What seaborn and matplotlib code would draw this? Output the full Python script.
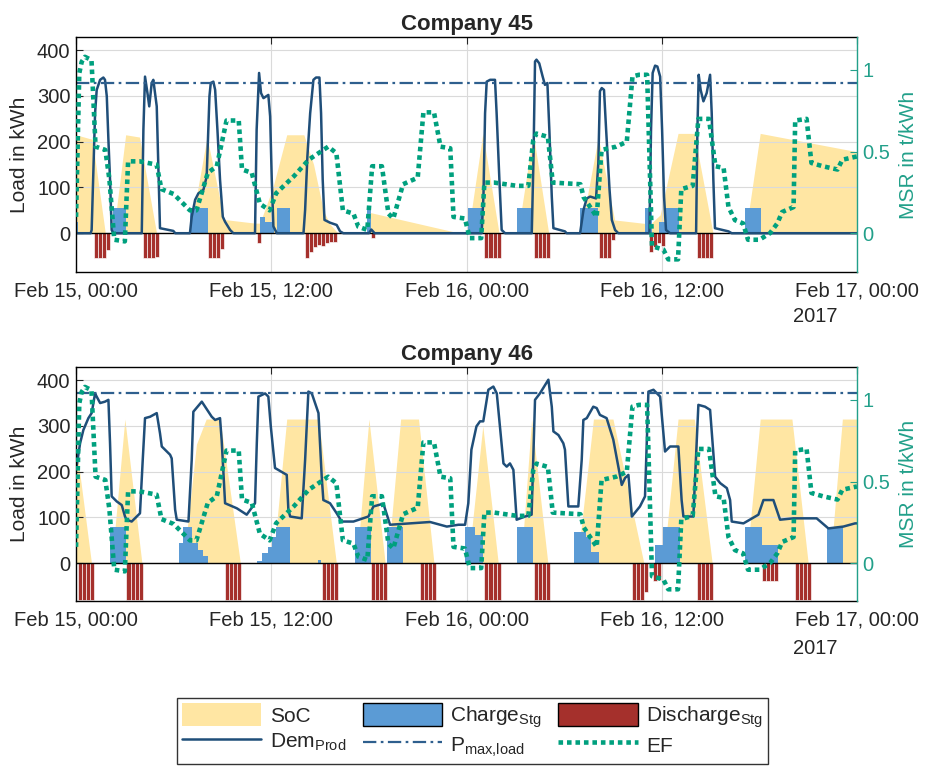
import numpy as np
import pandas as pd
import matplotlib
matplotlib.use("Agg")
import matplotlib.pyplot as plt
import matplotlib.dates as mdates
from matplotlib.patches import Patch
from matplotlib.lines import Line2D
from matplotlib.ticker import FuncFormatter
import seaborn as sns

START = pd.Timestamp("2017-02-15 00:00")
SLOT_H = 0.25  # quarter-hour resolution of the storage schedule

# Emission factor (MSR, t/kWh), hours since start -> value
ef = [(0.0, 0.10), (0.2, 0.98), (0.35, 1.05), (0.55, 1.08), (0.95, 1.06), (1.05, 0.85),
      (1.2, 0.53), (1.8, 0.51), (2.05, 0.33), (2.35, -0.04), (3.0, -0.05), (3.1, 0.2),
      (3.2, 0.44), (3.9, 0.44), (4.95, 0.42), (5.25, 0.27), (6.0, 0.24), (7.0, 0.14),
      (7.4, 0.14), (8.1, 0.37), (8.65, 0.41), (9.25, 0.69), (10.0, 0.69), (10.2, 0.39),
      (10.8, 0.37), (11.3, 0.18), (11.9, 0.14), (12.3, 0.245), (13.4, 0.35), (14.3, 0.45),
      (15.5, 0.53), (16.0, 0.49), (16.4, 0.14), (17.05, 0.12), (17.35, 0.04), (17.9, 0.02),
      (18.2, 0.41), (18.8, 0.41), (19.2, 0.12), (19.5, 0.09), (20.1, 0.30), (21.0, 0.34),
      (21.35, 0.74), (22.0, 0.74), (22.4, 0.53), (23.0, 0.52), (23.2, 0.10), (23.9, 0.09),
      (24.2, -0.03), (24.9, -0.03), (25.1, 0.31), (25.7, 0.31), (27.1, 0.29), (27.8, 0.29),
      (28.1, 0.57), (28.3, 0.61), (29.0, 0.59), (29.3, 0.31), (31.0, 0.30), (31.2, 0.22),
      (32.0, 0.10), (32.3, 0.51), (33.2, 0.53), (33.85, 0.56), (34.2, 0.96), (34.6, 0.97),
      (35.1, 0.97), (35.4, -0.08), (36.1, -0.10), (36.4, -0.16), (37.0, -0.16), (37.2, 0.27),
      (37.9, 0.29), (38.25, 0.70), (38.9, 0.70), (39.3, 0.41), (39.8, 0.40), (40.1, 0.16),
      (40.5, 0.08), (41.0, 0.06), (41.3, -0.04), (42.0, -0.04), (42.65, 0.0), (43.1, 0.06),
      (43.4, 0.13), (44.1, 0.16), (44.2, 0.69), (44.9, 0.70), (45.2, 0.43), (45.9, 0.41),
      (46.8, 0.39), (47.1, 0.45), (48.0, 0.47)]

# ---- Company 45 ----
dem45 = [(0, 0), (0.9, 0), (0.96, 7), (1.07, 138), (1.17, 262), (1.27, 313), (1.48, 335),
         (1.68, 340), (1.78, 335), (1.89, 299), (1.99, 204), (2.09, 117), (2.19, 7), (2.3, 0),
         (4.04, 0), (4.14, 226), (4.24, 342), (4.39, 306), (4.5, 277), (4.65, 328), (4.75, 335),
         (4.96, 277), (5.08, 117), (5.16, 11), (5.98, 5), (6.1, 0),
         (7.0, 0), (7.11, 36), (7.32, 73), (7.52, 87), (7.83, 95), (8.03, 124), (8.2, 299),
         (8.28, 328), (8.44, 331), (8.55, 313), (8.69, 226), (8.85, 117), (9.02, 36),
         (9.16, 25), (9.47, 7), (9.67, 0),
         (11.0, 0), (11.1, 226), (11.25, 350), (11.37, 306), (11.52, 295), (11.82, 302),
         (11.93, 255), (12.03, 117), (12.13, 15), (12.34, 0),
         (13.98, 0), (14.08, 51), (14.22, 168), (14.39, 262), (14.59, 335), (14.75, 340),
         (14.96, 340), (15.06, 262), (15.16, 117), (15.27, 29), (15.61, 23), (16.02, 18),
         (16.23, 4), (16.43, 0),
         (18.0, 0), (18.15, 8), (18.35, 0),
         (24.93, 0), (25.04, 80), (25.14, 262), (25.24, 331), (25.45, 335), (25.75, 335),
         (25.85, 262), (26.02, 117), (26.16, 7), (26.37, 0),
         (28.01, 0), (28.11, 153), (28.21, 375), (28.3, 379), (28.47, 371), (28.68, 342),
         (28.82, 324), (28.97, 328), (29.09, 226), (29.24, 80), (29.34, 11), (30.05, 4),
         (30.15, 0),
         (30.98, 0), (31.19, 51), (31.39, 76), (31.6, 80), (31.96, 76), (32.1, 153),
         (32.2, 310), (32.31, 317), (32.45, 313), (32.58, 226), (32.79, 95), (32.93, 29),
         (33.13, 7), (33.33, 0),
         (35.24, 0), (35.34, 226), (35.44, 350), (35.59, 366), (35.73, 364), (35.9, 342),
         (36.02, 226), (36.14, 80), (36.26, 7), (36.51, 0),
         (38.11, 0), (38.19, 226), (38.27, 346), (38.39, 313), (38.56, 288), (38.76, 306),
         (38.97, 346), (39.07, 262), (39.17, 117), (39.27, 11), (40.1, 4), (40.3, 0),
         (48.0, 0)]
soc45 = [(0, 215), (1.0, 205), (1.8, 0), (2.3, 0), (3.05, 215), (3.9, 210), (4.95, 0),
         (7.0, 0), (8.05, 210), (9.1, 30), (11.0, 22), (11.3, 22), (12.1, 100), (12.95, 215),
         (14.0, 215), (14.6, 150), (15.2, 50), (15.6, 20), (16.1, 0), (17.9, 0), (18.1, 45),
         (23.6, 0), (24.1, 0), (25.0, 218), (26.0, 0), (27.15, 0), (28.1, 218), (29.05, 0),
         (31.0, 0), (32.1, 210), (33.1, 29), (35.3, 20), (35.9, 40), (37.0, 218), (38.0, 218),
         (39.15, 0), (41.15, 0), (42.05, 218), (48.0, 178)]
# charging blocks: (start hour, duration h, kW)
chg45 = [(0.0, 0.15, 25), (2.3, 0.8, 55), (7.0, 1.1, 55), (11.3, 0.3, 36), (11.6, 0.55, 25),
         (12.33, 0.82, 55), (17.9, 0.2, 50), (24.1, 0.9, 55), (27.1, 1.0, 55), (31.0, 1.1, 55),
         (35.0, 0.4, 55), (35.85, 0.35, 25), (36.2, 0.85, 55), (41.1, 1.0, 55)]
# discharging quarter-hours: (start hour, kW)
dis45 = [(1.1, -55), (1.35, -55), (1.6, -55), (1.85, -36),
         (4.1, -55), (4.35, -55), (4.6, -55), (4.85, -52),
         (8.1, -55), (8.35, -55), (8.6, -55), (8.85, -35),
         (11.1, -22),
         (14.07, -55), (14.32, -42), (14.57, -30), (14.82, -25), (15.07, -28), (15.32, -22),
         (15.57, -20), (15.82, -20),
         (18.15, -10),
         (25.1, -55), (25.35, -55), (25.6, -55), (25.85, -55),
         (28.15, -55), (28.4, -55), (28.65, -55), (28.9, -55),
         (32.15, -55), (32.4, -55), (32.65, -55), (32.9, -15),
         (35.2, -40), (35.45, -30), (35.7, -22), (35.95, -28),
         (38.15, -55), (38.4, -55), (38.65, -55), (38.9, -55)]
pmax45 = 328

# ---- Company 46 ----
dem46 = [(0, 204), (0.25, 262), (0.45, 291), (0.76, 317), (0.96, 328), (1.07, 350), (1.17, 371),
         (1.27, 364), (1.48, 350), (1.78, 353), (1.99, 357), (2.09, 262), (2.19, 146),
         (2.5, 135), (2.81, 127), (3.01, 102), (3.11, 95), (3.42, 91), (3.73, 102), (3.93, 109),
         (4.1, 226), (4.24, 317), (4.55, 320), (4.75, 324), (4.96, 328), (5.16, 284),
         (5.27, 255), (5.47, 248), (5.78, 237), (5.88, 229), (6.09, 117), (6.19, 95),
         (6.91, 91), (7.11, 226), (7.21, 331), (7.73, 353), (8.34, 320), (8.55, 313),
         (8.85, 317), (8.95, 269), (9.16, 131), (9.88, 120), (10.49, 106), (11.0, 131),
         (11.11, 262), (11.21, 364), (11.62, 371), (11.82, 364), (11.97, 299), (12.23, 208),
         (12.95, 193), (13.05, 117), (13.16, 102), (13.87, 98), (14.08, 226), (14.28, 375),
         (14.49, 371), (14.69, 350), (14.9, 328), (15.1, 189), (15.2, 138), (15.61, 131),
         (16.02, 109), (16.33, 91), (17.05, 91), (17.97, 102), (18.28, 124), (18.89, 130),
         (19.2, 95), (19.3, 84), (20.53, 87), (21.76, 90), (22.79, 80), (23.5, 84),
         (23.91, 84), (24.11, 131), (24.3, 248), (24.61, 299), (24.83, 310), (25.03, 310),
         (25.34, 379), (25.65, 386), (25.86, 371), (26.05, 299), (26.27, 218), (26.47, 211),
         (26.67, 218), (26.88, 204), (27.08, 95), (27.6, 102), (28.0, 106), (28.21, 357),
         (28.51, 371), (29.03, 401), (29.24, 342), (29.34, 288), (29.65, 280), (29.95, 262),
         (30.05, 248), (30.26, 124), (30.87, 124), (31.08, 226), (31.18, 313), (31.39, 317),
         (31.79, 342), (32.0, 339), (32.2, 324), (32.61, 317), (33.02, 270), (33.54, 171),
         (33.74, 186), (33.95, 193), (34.16, 102), (34.66, 124), (34.97, 146), (35.18, 375),
         (35.49, 379), (35.9, 364), (36.2, 244), (36.51, 255), (37.02, 255), (37.22, 138),
         (37.33, 102), (37.94, 102), (38.25, 346), (38.66, 342), (38.97, 335), (39.28, 189),
         (39.59, 175), (40.0, 164), (40.2, 138), (40.3, 91), (41.02, 87), (41.94, 106),
         (42.25, 138), (42.86, 138), (43.27, 95), (44.09, 98), (45.52, 98), (46.24, 76),
         (47.16, 80), (47.88, 87), (48.0, 87)]
soc46 = [(0, 260), (0.95, 0), (2.2, 0), (3.0, 315), (4.05, 0), (6.6, 0), (7.4, 260), (8.0, 315),
         (8.85, 315), (10.1, 0), (12.1, 0), (12.95, 315), (14.9, 315), (16.0, 0), (17.25, 0),
         (18.0, 315), (19.0, 0), (19.15, 0), (19.95, 315), (21.05, 315), (22.0, 0), (24.1, 0),
         (25.0, 300), (25.95, 0), (27.35, 0), (28.0, 315), (29.0, 0), (30.8, 0), (31.8, 315),
         (33.0, 315), (34.9, 0), (36.1, 0), (37.0, 315), (38.0, 315), (39.1, 0), (41.2, 0),
         (42.05, 315), (44.0, 315), (45.0, 0), (46.35, 0), (47.1, 315), (48.0, 315)]
chg46 = [(2.1, 1.0, 80), (6.3, 0.3, 44), (6.6, 0.5, 80), (7.1, 0.42, 44), (7.52, 0.31, 29),
         (7.83, 0.3, 15), (11.1, 0.3, 5), (11.4, 0.4, 22), (11.8, 0.25, 36), (12.05, 0.25, 58),
         (12.3, 0.85, 80), (14.9, 0.15, 7), (17.15, 0.95, 80), (19.1, 1.0, 80), (23.9, 0.65, 80),
         (24.55, 0.45, 62), (27.1, 1.0, 80), (30.6, 0.72, 69), (31.32, 0.3, 58),
         (31.62, 0.5, 25), (35.6, 0.5, 40), (36.1, 1.0, 80), (41.12, 1.02, 80),
         (42.14, 1.03, 40), (46.14, 1.02, 80)]
dis46 = [(0.1, -80), (0.35, -80), (0.6, -80), (0.85, -80),
         (3.1, -80), (3.35, -80), (3.6, -80), (3.85, -80),
         (9.15, -80), (9.4, -80), (9.65, -80), (9.9, -80),
         (15.1, -80), (15.35, -80), (15.6, -80), (15.85, -80),
         (18.1, -80), (18.35, -80), (18.6, -80), (18.85, -80),
         (21.15, -80), (21.4, -80), (21.65, -80), (21.9, -80),
         (25.1, -80), (25.35, -80), (25.6, -80), (25.85, -80),
         (28.15, -80), (28.4, -80), (28.65, -80), (28.9, -80),
         (34.15, -80), (34.4, -80), (34.65, -80), (34.9, -62),
         (35.45, -40), (35.7, -36),
         (38.15, -80), (38.4, -80), (38.65, -80), (38.9, -80),
         (42.15, -40), (42.4, -40), (42.65, -40), (42.9, -40),
         (44.2, -80), (44.45, -80), (44.7, -80), (44.95, -80)]
pmax46 = 371

# ---- style ----
C_SOC = "#FFE6A3"
C_CHG = "#5B9BD5"
C_DIS = "#A5302C"
C_DEM = "#1F4E79"
C_PMAX = "#2E5F8E"
C_EF = "#00A07E"
C_MSR = "#22A08A"

sns.set_style("white")
plt.rcParams["font.family"] = ["Liberation Sans", "DejaVu Sans"]
plt.rcParams["mathtext.fontset"] = "custom"
plt.rcParams["mathtext.rm"] = "Liberation Sans"
plt.rcParams["mathtext.it"] = "Liberation Sans:italic"
plt.rcParams["mathtext.bf"] = "Liberation Sans:bold"


def to_time(hours):
    return START + pd.to_timedelta(np.atleast_1d(np.asarray(hours, dtype=float)), unit="h")


def frame(pairs, cols):
    return pd.DataFrame(pairs, columns=cols)


def draw_panel(ax, title, dem, soc, chg, dis, pmax, ylim, ylim2):
    d_dem = frame(dem, ["h", "v"]); d_dem["t"] = to_time(d_dem["h"])
    d_soc = frame(soc, ["h", "v"]); d_soc["t"] = to_time(d_soc["h"])
    d_chg = frame(chg, ["h", "dur", "v"]); d_chg["t"] = to_time(d_chg["h"])
    d_dis = frame(dis, ["h", "v"]); d_dis["t"] = to_time(d_dis["h"])
    d_ef = frame(ef, ["h", "v"]); d_ef["t"] = to_time(d_ef["h"])
    d_pm = pd.DataFrame({"t": to_time([0, 48]), "v": [pmax, pmax]})

    ax.set_axisbelow(True)
    ax.grid(True, color="#DADADA", linewidth=0.8)
    ax.fill_between(d_soc["t"], 0, d_soc["v"], color=C_SOC, linewidth=0, zorder=0.3)
    ax.bar(d_chg["t"], d_chg["v"], width=d_chg["dur"].to_numpy() / 24, align="edge",
           color=C_CHG, linewidth=0, zorder=1.0)
    ax.bar(d_dis["t"], d_dis["v"], width=SLOT_H / 24, align="edge",
           color=C_DIS, edgecolor="white", linewidth=0.45, zorder=1.0)
    ax.axhline(0, color="black", linewidth=1.0, zorder=1.5)
    sns.lineplot(data=d_dem, x="t", y="v", ax=ax, color=C_DEM, linewidth=1.8,
                 estimator=None, sort=False, zorder=2)
    sns.lineplot(data=d_pm, x="t", y="v", ax=ax, color=C_PMAX, linewidth=1.6,
                 estimator=None, zorder=2)
    ax.lines[-1].set_dashes((6, 2, 1.2, 2))

    t_lo, t_hi = to_time([0, 48])
    ax.set_xlim(t_lo, t_hi)
    ax.set_ylim(*ylim)
    ax.set_yticks([0, 100, 200, 300, 400])
    ax.xaxis.set_major_locator(mdates.HourLocator(byhour=[0, 12]))
    ax.xaxis.set_major_formatter(mdates.DateFormatter("%b %d, %H:%M"))
    ax.set_xlabel("")
    ax.set_ylabel("Load in kWh", fontsize=15, labelpad=6)
    ax.set_title(title, fontsize=16, fontweight="bold", pad=5)
    ax.tick_params(axis="both", direction="in", length=5, width=0.8, labelsize=14.5,
                   top=True, right=False, pad=7)
    ax.tick_params(axis="y", pad=4)
    for s in ["left", "top", "bottom"]:
        ax.spines[s].set_color("black")
        ax.spines[s].set_linewidth(1.0)
    ax.spines["right"].set_visible(False)

    ax2 = ax.twinx()
    sns.lineplot(data=d_ef, x="t", y="v", ax=ax2, color=C_EF, linewidth=3.3,
                 estimator=None, sort=False)
    ax2.lines[-1].set_linestyle((0, (1, 0.85)))
    ax2.lines[-1].set_dash_capstyle("butt")
    ax2.set_ylim(*ylim2)
    ax2.set_yticks([0, 0.5, 1])
    ax2.yaxis.set_major_formatter(FuncFormatter(lambda v, p: f"{v:g}"))
    ax2.set_ylabel("MSR in t/kWh", fontsize=15, color=C_MSR, labelpad=6)
    ax2.set_xlabel("")
    ax2.tick_params(axis="y", direction="in", length=5, width=0.8, labelsize=14.5,
                    colors=C_MSR, pad=4)
    for s in ["left", "top", "bottom"]:
        ax2.spines[s].set_visible(False)
    ax2.spines["right"].set_color(C_MSR)
    ax2.spines["right"].set_linewidth(1.0)
    ax2.set_xlim(t_lo, t_hi)
    return ax2


fig = plt.figure(figsize=(9.25, 7.74), dpi=100)
ax_top = fig.add_axes([0.0822, 0.649, 0.8443, 0.3029])
ax_bot = fig.add_axes([0.0822, 0.2239, 0.8443, 0.3015])
t2 = draw_panel(ax_top, "Company 45", dem45, soc45, chg45, dis45, pmax45,
                (-84, 428), (-0.2355, 1.2))
b2 = draw_panel(ax_bot, "Company 46", dem46, soc46, chg46, dis46, pmax46,
                (-82, 428), (-0.2299, 1.2))
t2.set_position(ax_top.get_position())
b2.set_position(ax_bot.get_position())

# year annotation under the last date tick
fig.text(793 / 925, 1 - 317 / 774, "2017", fontsize=14.5, ha="left", va="center")
fig.text(793 / 925, 1 - 648 / 774, "2017", fontsize=14.5, ha="left", va="center")

handles = [
    Patch(facecolor=C_SOC, edgecolor="none"),
    Line2D([], [], color=C_DEM, linewidth=1.8),
    Patch(facecolor=C_CHG, edgecolor="black", linewidth=1.0),
    Line2D([], [], color=C_PMAX, linewidth=1.6, dashes=(6, 2, 1.2, 2)),
    Patch(facecolor=C_DIS, edgecolor="black", linewidth=1.0),
    Line2D([], [], color=C_EF, linewidth=3.3, linestyle=(0, (1, 0.85)), dash_capstyle="butt"),
]
labels = ["SoC", r"Dem$_{\mathrm{Prod}}$", r"Charge$_{\mathrm{Stg}}$",
          r"P$_{\mathrm{max{,}load}}$", r"Discharge$_{\mathrm{Stg}}$", "EF"]
leg = fig.legend(handles, labels, ncol=3, loc="center", bbox_to_anchor=(0.511, 0.0555),
                 fontsize=15, frameon=True, fancybox=False, edgecolor="black",
                 handlelength=3.8, handleheight=1.35, handletextpad=0.4,
                 columnspacing=0.8, labelspacing=0.15, borderpad=0.25)
leg.get_frame().set_linewidth(1.0)

fig.savefig("out.png", dpi=100, facecolor="white")
